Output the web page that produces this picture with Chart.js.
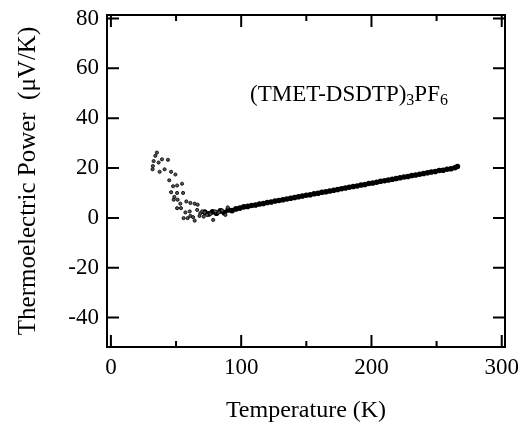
<!DOCTYPE html>
<html>
<head>
<meta charset="utf-8">
<script src="https://cdn.jsdelivr.net/npm/chart.js@4"></script>
<style>
  body { margin: 0; background: #fff; }
  #wrap { width: 524px; height: 425px; }
</style>
</head>
<body>
<div id="wrap"><canvas id="grafico" width="524" height="425"></canvas></div>
<script>
// --- dados ---
// regiao de baixa temperatura (pontos espalhados)
const tempBaixa = [32, 32.2, 32.8, 34.1, 35.3, 36.6, 37.4, 39.2, 41.2, 43.8, 44.8, 46.2, 46.2, 47.7, 48.2,
  48.7, 49.5, 50.8, 50.8, 50.8, 51.2, 53.3, 53.8, 54.6, 55.4, 55.8, 57.2, 57.9, 58.9, 60.5, 61, 61,
  63.1, 64.3, 64.3, 66.2, 66.6, 68, 68.7, 70, 71.2, 72, 73.8, 76.4, 78.5, 80.2, 82.8, 85.4, 87.9, 89.7];
const seebeckBaixa = [19.5, 20.8, 22.8, 24.9, 26.2, 22.2, 18.5, 23.5, 19.5, 23.3, 15.1, 18.5, 10.3, 12.7, 7.3,
  8.4, 17.4, 13, 10, 3.9, 7.3, 5.7, 3.9, 13.7, 10, -0.1, 2.2, 6.6, -0.1, 2.6, 6, 0.8,
  0.3, 5.7, -1.1, 3.2, 5.3, 0.8, 1.9, 2.6, 0.5, 2.2, 1.2, 1.6, -0.8, 2.6, 2.2, 3, 1.2, 4.2];

// curva principal (pontos densos)
const tempAlta = [72, 75, 78, 81, 84, 87, 90, 93, 96, 99, 102, 105, 108, 111, 114, 117, 120, 123, 126, 129,
  132, 135, 138, 141, 144, 147, 150, 153, 156, 159, 162, 165, 168, 171, 174, 177, 180, 183, 186, 189,
  192, 195, 198, 201, 204, 207, 210, 213, 216, 219, 222, 225, 228, 231, 234, 237, 240, 243, 246, 249,
  252, 255, 258, 261, 264, 266];
const seebeckAlta = [2.3, 1.6, 2.4, 1.9, 2.8, 2.1, 3.2, 2.9, 3.6, 3.9, 4.4, 4.6, 5.0, 5.2, 5.6, 5.8, 6.2, 6.4, 6.8, 7.0,
  7.3, 7.6, 7.9, 8.2, 8.5, 8.8, 9.1, 9.3, 9.7, 9.9, 10.3, 10.5, 10.8, 11.1, 11.4, 11.7, 12.0, 12.3, 12.6, 12.8,
  13.2, 13.4, 13.8, 14.0, 14.3, 14.7, 14.9, 15.2, 15.5, 15.8, 16.1, 16.4, 16.6, 17.0, 17.2, 17.5, 17.8, 18.1, 18.4, 18.6,
  19.0, 19.1, 19.5, 19.7, 20.1, 20.6];

const ticksX = [0, 100, 200, 300];
const ticksXMenores = [50, 150, 250];
const ticksY = [-40, -20, 0, 20, 40, 60, 80];

const tituloX = 'Temperature (K)';
const tituloY = 'Thermoelectric Power  (\u03BCV/K)';
const rotulo = ['(TMET-DSDTP)', '3', 'PF', '6'];
const posRotulo = { x: 106.8, y: 47 };

const FONTE = '"Liberation Serif", "Times New Roman", serif';

function pares(xs, ys) {
  return xs.map((x, i) => ({ x: x, y: ys[i] }));
}

// moldura e marcas internas nos quatro lados
const pluginMoldura = {
  id: 'moldura',
  afterDraw(chart) {
    const { ctx, chartArea: a, scales } = chart;
    const sx = scales.x, sy = scales.y;
    ctx.save();
    ctx.strokeStyle = '#000';
    ctx.lineWidth = 2;
    ctx.strokeRect(a.left, a.top, a.right - a.left, a.bottom - a.top);

    ctx.beginPath();
    ticksX.forEach(v => {
      const p = sx.getPixelForValue(v);
      ctx.moveTo(p, a.bottom); ctx.lineTo(p, a.bottom - 12);
      ctx.moveTo(p, a.top); ctx.lineTo(p, a.top + 12);
    });
    ticksXMenores.forEach(v => {
      const p = sx.getPixelForValue(v);
      ctx.moveTo(p, a.bottom); ctx.lineTo(p, a.bottom - 6);
      ctx.moveTo(p, a.top); ctx.lineTo(p, a.top + 6);
    });
    ticksY.forEach(v => {
      const p = sy.getPixelForValue(v);
      ctx.moveTo(a.left, p); ctx.lineTo(a.left + 12, p);
      ctx.moveTo(a.right, p); ctx.lineTo(a.right - 12, p);
    });
    ctx.stroke();

    // rotulo do composto com subscritos
    let x = sx.getPixelForValue(posRotulo.x);
    const y = sy.getPixelForValue(posRotulo.y);
    ctx.fillStyle = '#000';
    ctx.textBaseline = 'alphabetic';
    ctx.textAlign = 'left';
    rotulo.forEach((parte, i) => {
      const sub = i % 2 === 1;
      ctx.font = (sub ? '16px ' : '23px ') + FONTE;
      ctx.fillText(parte, x, sub ? y + 4 : y);
      x += ctx.measureText(parte).width;
    });
    ctx.restore();
  }
};

new Chart(document.getElementById('grafico'), {
  type: 'scatter',
  data: {
    datasets: [
      {
        data: pares(tempBaixa, seebeckBaixa),
        pointRadius: 1.6,
        pointBackgroundColor: '#555',
        pointBorderColor: '#000',
        pointBorderWidth: 0.8
      },
      {
        data: pares(tempAlta, seebeckAlta),
        showLine: true,
        borderColor: '#000',
        borderWidth: 3,
        pointRadius: 1.3,
        pointBackgroundColor: '#000',
        pointBorderColor: '#000'
      }
    ]
  },
  options: {
    responsive: false,
    animation: false,
    layout: { padding: { left: 0, right: 19, top: 15, bottom: 0 } },
    plugins: { legend: { display: false }, tooltip: { enabled: false } },
    scales: {
      x: {
        type: 'linear',
        min: -3,
        max: 302.5,
        grid: { display: false, drawTicks: false },
        border: { display: false },
        afterBuildTicks: s => { s.ticks = ticksX.map(v => ({ value: v })); },
        afterFit: s => { s.height = 78; s.paddingLeft = 0; s.paddingRight = 0; },
        ticks: { color: '#000', padding: 7, font: { family: FONTE, size: 23 } },
        title: { display: true, text: tituloX, color: '#000', padding: { bottom: 0 }, font: { family: FONTE, size: 24 } }
      },
      y: {
        type: 'linear',
        min: -51.8,
        max: 81.4,
        grid: { display: false, drawTicks: false },
        border: { display: false },
        afterBuildTicks: s => { s.ticks = ticksY.map(v => ({ value: v })); },
        afterFit: s => { s.width = 107; s.paddingTop = 0; s.paddingBottom = 0; },
        ticks: { color: '#000', padding: 8, font: { family: FONTE, size: 23 } },
        title: { display: true, text: tituloY, color: '#000', padding: { top: 13 }, font: { family: FONTE, size: 25 } }
      }
    }
  },
  plugins: [pluginMoldura]
});
</script>
</body>
</html>
